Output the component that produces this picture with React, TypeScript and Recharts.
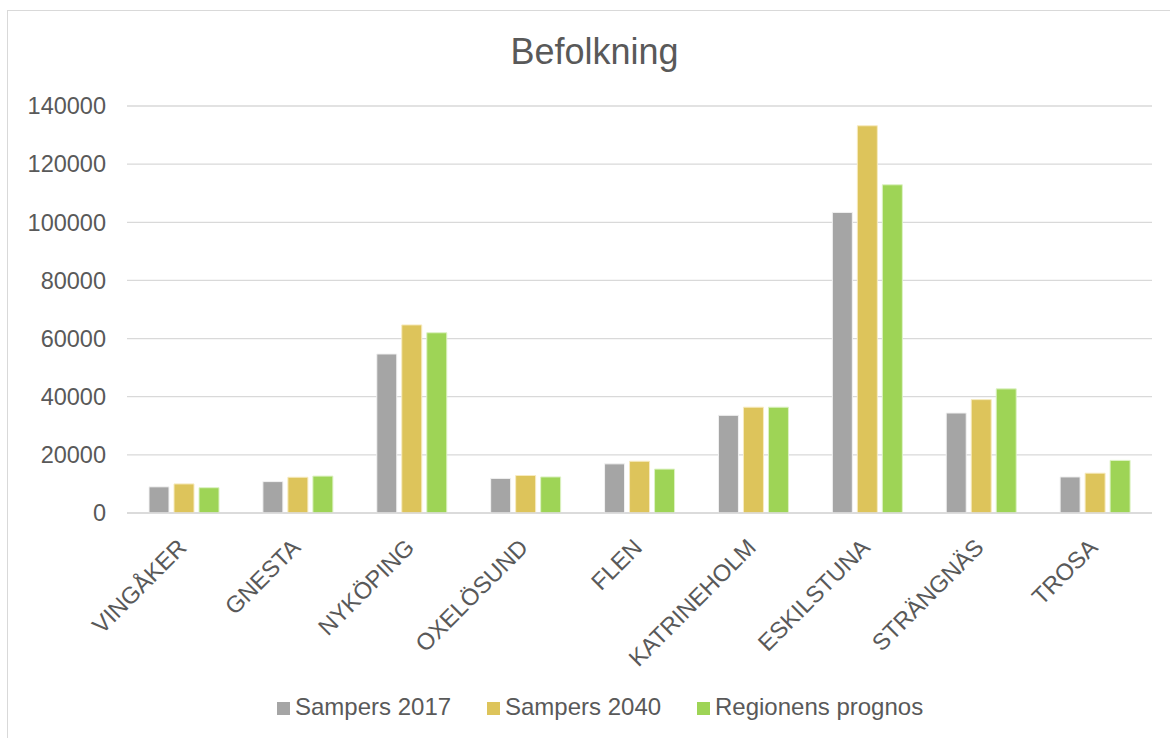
import React from "react";
import { BarChart, Bar, XAxis, YAxis, CartesianGrid, Legend } from "recharts";

const categories = ["VINGÅKER", "GNESTA", "NYKÖPING", "OXELÖSUND", "FLEN", "KATRINEHOLM", "ESKILSTUNA", "STRÄNGNÄS", "TROSA"];
const sampers2017 = [9000, 10800, 54700, 11900, 16900, 33600, 103400, 34400, 12400];
const sampers2040 = [10000, 12300, 64700, 12900, 17800, 36400, 133200, 39000, 13700];
const regionens = [8700, 12700, 62000, 12400, 15100, 36400, 112900, 42700, 18100];
const yTicks = [0, 20000, 40000, 60000, 80000, 100000, 120000, 140000];
const seriesNames = ["Sampers 2017", "Sampers 2040", "Regionens prognos"];
const seriesColors = ["#A5A5A5", "#DDC45B", "#9ED456"];

const data = categories.map((c, i) => ({
  name: c,
  s2017: sampers2017[i],
  s2040: sampers2040[i],
  reg: regionens[i],
}));

const FONT = "'Liberation Sans', Arial, sans-serif";
const TEXT = "#595959";

const XTick = (props: any) => {
  const { x, payload } = props;
  const px = x + 4;
  const py = 549;
  return (
    <text
      x={px}
      y={py}
      transform={`rotate(-45, ${px}, ${py})`}
      textAnchor="end"
      fill={TEXT}
      fontSize={23.5}
      fontFamily={FONT}
    >
      {payload.value}
    </text>
  );
};

const LegendContent = () => {
  const items = [
    { sq: 277, tx: 295 },
    { sq: 487, tx: 505 },
    { sq: 697, tx: 715 },
  ];
  return (
    <svg width={1170} height={40} style={{ display: "block" }}>
      {items.map((it, i) => (
        <g key={i}>
          <rect x={it.sq} y={12} width={13} height={13} fill={seriesColors[i]} />
          <text x={it.tx} y={25} fill={TEXT} fontSize={24} fontFamily={FONT}>
            {seriesNames[i]}
          </text>
        </g>
      ))}
    </svg>
  );
};

export default function App() {
  return (
    <div style={{ position: "absolute", left: 0, top: 0, width: 1170, height: 738, overflow: "hidden", background: "#fff" }}>
      <div
        style={{
          position: "absolute",
          left: 7,
          top: 10,
          width: 1180,
          height: 760,
          border: "1.5px solid #D9D9D9",
          boxSizing: "border-box",
        }}
      />
      <div
        style={{
          position: "absolute",
          left: 0,
          top: 32,
          width: 1189,
          textAlign: "center",
          fontFamily: FONT,
          fontSize: 36,
          color: TEXT,
          lineHeight: "40px",
        }}
      >
        Befolkning
      </div>
      <div style={{ position: "absolute", left: 0, top: 0 }}>
        <BarChart
          width={1170}
          height={738}
          data={data}
          margin={{ top: 106, right: 18, bottom: 0, left: 0 }}
          barSize={20}
          barGap={5}
        >
          <CartesianGrid vertical={false} stroke="#D9D9D9" strokeWidth={1.3} />
          <XAxis
            dataKey="name"
            height={225}
            tickLine={false}
            tickSize={0}
            axisLine={{ stroke: "#D9D9D9", strokeWidth: 1.3 }}
            interval={0}
            tick={<XTick />}
          />
          <YAxis
            width={127}
            domain={[0, 140000]}
            ticks={yTicks}
            axisLine={false}
            tickLine={false}
            tickSize={0}
            tickMargin={21}
            tick={{ fill: TEXT, fontSize: 23.5, fontFamily: FONT }}
          />
          <Legend
            layout="horizontal"
            verticalAlign="middle"
            align="center"
            content={<LegendContent />}
            wrapperStyle={{ position: "absolute", left: 0, top: 690, width: 1170, height: 40 }}
          />
          <Bar dataKey="s2017" name={seriesNames[0]} fill={seriesColors[0]} stroke="#F2F2F2" strokeWidth={1} isAnimationActive={false} />
          <Bar dataKey="s2040" name={seriesNames[1]} fill={seriesColors[1]} stroke="#F7EBC0" strokeWidth={1} isAnimationActive={false} />
          <Bar dataKey="reg" name={seriesNames[2]} fill={seriesColors[2]} stroke="#DDF2C4" strokeWidth={1} isAnimationActive={false} />
        </BarChart>
      </div>
    </div>
  );
}
